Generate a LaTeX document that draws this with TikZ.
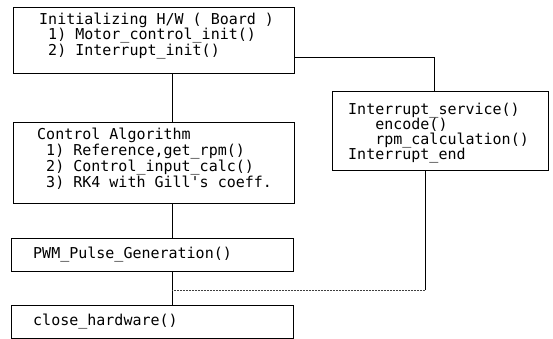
\documentclass[tikz,border=0pt]{standalone}
\usepackage{fontspec}
\setmonofont{DejaVu Sans Mono}
\begin{document}
\begin{tikzpicture}[x=1pt,y=-1pt,
  box/.style={draw, line width=0.9pt, anchor=north west, inner sep=0pt},
  code/.style={anchor=west, align=left, inner sep=0pt,
    font=\fontsize{15}{14.5}\selectfont\ttfamily},
  link/.style={line width=0.9pt},
  faint/.style={line width=0.6pt, black!75, dash pattern=on 2pt off 1pt}]
\useasboundingbox (0,0) rectangle (553,339);
% boxes
\node[box, minimum width=281pt, minimum height=66pt] (init) at (13,7) {};
\node[box, minimum width=281pt, minimum height=81pt] (algo) at (13,122) {};
\node[box, minimum width=282pt, minimum height=33pt] (pwm) at (11,238) {};
\node[box, minimum width=282pt, minimum height=33pt] (close) at (11,305) {};
\node[box, minimum width=216pt, minimum height=79pt] (isr) at (332,91) {};
% texts
\node[code] (initT) at (39,36) {Initializing H/W ( Board )\\
  ~1) Motor\_control\_init()\\
  ~2) Interrupt\_init()};
\node[code] (algoT) at (37,159) {Control Algorithm\\
  ~1) Reference,get\_rpm()\\
  ~2) Control\_input\_calc()\\
  ~3) RK4 with Gill's coeff.};
\node[code] (pwmT) at (33,255) {PWM\_Pulse\_Generation()};
\node[code] (closeT) at (33,322) {close\_hardware()};
\node[code, font=\fontsize{15}{15}\selectfont\ttfamily] (isrT) at (348,133)
  {Interrupt\_service()\\
  ~~~encode()\\
  ~~~rpm\_calculation()\\
  Interrupt\_end};
% connectors
\draw[link] (init.south -| 172,0) -- (algo.north -| 172,0);
\draw[link] (algo.south -| 172,0) -- (pwm.north -| 172,0);
\draw[link] (pwm.south -| 172,0) -- (close.north -| 172,0);
\draw[link] ([yshift=-17pt]init.east) -| ([xshift=-6pt]isr.north);
\coordinate (turn) at (425,290);
\coordinate (join) at (172,290);
\draw[link] (isr.south -| turn) -- (turn);
\draw[faint] (turn) -- (join);
\end{tikzpicture}
\end{document}
